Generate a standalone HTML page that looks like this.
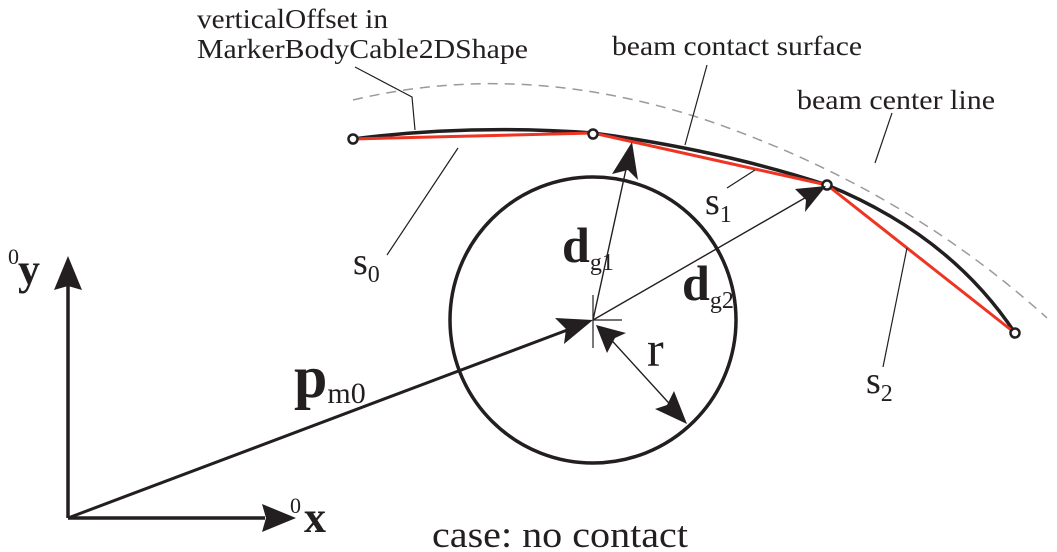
<!DOCTYPE html>
<html><head><meta charset="utf-8"><style>
html,body{margin:0;padding:0;background:#fff;}
svg{display:block;}
text{font-family:"Liberation Serif",serif;fill:#231f20;}
</style></head><body>
<svg width="1057" height="552" viewBox="0 0 1057 552">
<path d="M353,100 Q520,60 700,118 Q900,185 1047,318" fill="none" stroke="#9a9a9a" stroke-width="1.5" stroke-dasharray="10,7"/>
<path d="M353,139 Q470,124 593,133 Q720,150 827,185 Q950,235 1015,333" fill="none" stroke="#231f20" stroke-width="3.5"/>
<polyline points="353,139 593,133 827,185 1015,333" fill="none" stroke="#ee3524" stroke-width="3"/>
<g fill="#fff" stroke="#231f20" stroke-width="2.5">
<circle cx="353" cy="139" r="4.5"/><circle cx="593" cy="134" r="4.5"/><circle cx="827" cy="185" r="4.5"/><circle cx="1015" cy="333" r="4.5"/>
</g>
<circle cx="593" cy="320" r="143" fill="none" stroke="#231f20" stroke-width="3.5"/>
<path d="M593,295 V348 M593,320 H622" stroke="#231f20" stroke-width="1.2"/>
<g stroke="#231f20" stroke-width="3.5" fill="#231f20">
<line x1="68" y1="518" x2="68" y2="285"/>
<path d="M68,256 L82,290 L68,286 L54,290 Z" stroke="none"/>
<line x1="68" y1="518" x2="265" y2="518"/>
<path d="M296,518 L262,532 L266,518 L262,504 Z" stroke="none"/>
</g>
<line x1="68" y1="518" x2="570" y2="329" stroke="#231f20" stroke-width="3"/>
<path d="M593,320 L564,344 L566,329 L555,318 Z" fill="#231f20"/>
<line x1="593" y1="320" x2="628" y2="160" stroke="#231f20" stroke-width="1.4"/>
<path d="M632,142 L638,180 L628,170 L612,174 Z" fill="#231f20"/>
<line x1="593" y1="320" x2="810" y2="195" stroke="#231f20" stroke-width="1.4"/>
<path d="M826,186 L805,212 L806,200 L795,189 Z" fill="#231f20"/>
<line x1="605" y1="333" x2="677" y2="412" stroke="#231f20" stroke-width="1.4"/>
<path d="M596,325 L626,333 L615,338 L607,353 Z" fill="#231f20"/>
<path d="M687,424 L655,409 L667,405 L674,391 Z" fill="#231f20"/>
<g stroke="#231f20" stroke-width="1.2" fill="none">
<polyline points="355,67 412,97 415,130"/>
<line x1="707" y1="65" x2="685" y2="145"/>
<line x1="892" y1="113" x2="875" y2="163"/>
<line x1="458" y1="148" x2="387" y2="255"/>
<line x1="755" y1="170" x2="727" y2="188"/>
<line x1="907" y1="248" x2="883" y2="367"/>
</g>
<text x="197" y="28" font-size="27" textLength="191" lengthAdjust="spacingAndGlyphs">verticalOffset in</text>
<text x="197" y="58" font-size="27" textLength="331" lengthAdjust="spacingAndGlyphs">MarkerBodyCable2DShape</text>
<text x="612" y="55" font-size="27" textLength="250" lengthAdjust="spacingAndGlyphs">beam contact surface</text>
<text x="797" y="109" font-size="27" textLength="198" lengthAdjust="spacingAndGlyphs">beam center line</text>
<text x="353" y="274" font-size="38">s<tspan font-size="24" dy="8">0</tspan></text>
<text x="705" y="214" font-size="38">s<tspan font-size="24" dy="8">1</tspan></text>
<text x="866" y="393" font-size="38">s<tspan font-size="24" dy="8">2</tspan></text>
<text x="562" y="262" font-size="50" font-weight="bold">d<tspan font-size="24" font-weight="normal" dy="8">g1</tspan></text>
<text x="682" y="300" font-size="50" font-weight="bold">d<tspan font-size="24" font-weight="normal" dy="8">g2</tspan></text>
<text x="647" y="366" font-size="50">r</text>
<text x="294" y="397" font-size="60" font-weight="bold">p<tspan font-size="30" font-weight="normal" dy="6">m0</tspan></text>
<text x="8" y="264" font-size="22">0</text>
<text x="18" y="284" font-size="44" font-weight="bold">y</text>
<text x="290" y="513" font-size="22">0</text>
<text x="304" y="532" font-size="44" font-weight="bold">x</text>
<text x="432" y="547" font-size="37" textLength="256" lengthAdjust="spacingAndGlyphs">case: no contact</text>
</svg>
</body></html>
